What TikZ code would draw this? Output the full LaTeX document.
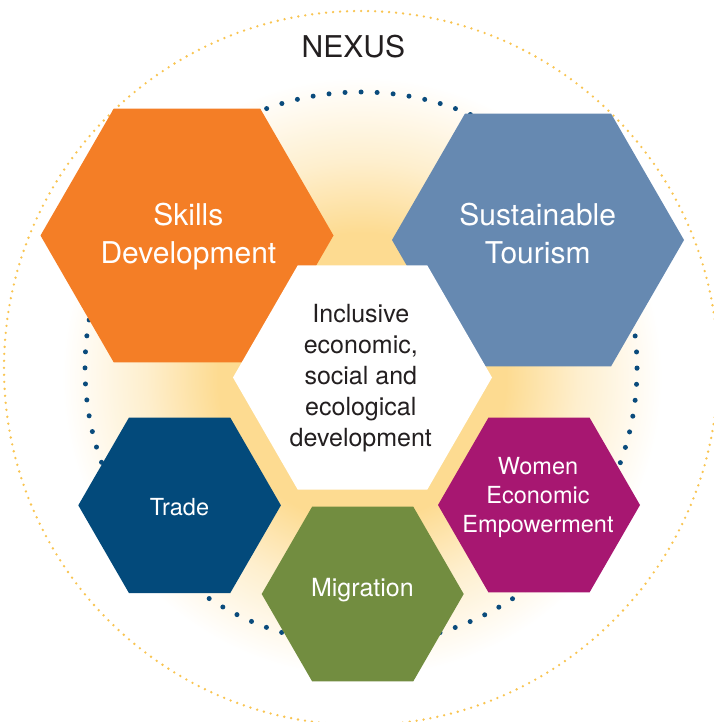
\documentclass[tikz,border=0pt]{standalone}
\usepackage{fontspec}
\setmainfont{TeX Gyre Heros}
\definecolor{skillsc}{RGB}{244,126,38}
\definecolor{tourc}{RGB}{102,137,177}
\definecolor{tradec}{RGB}{3,74,123}
\definecolor{womenc}{RGB}{167,23,113}
\definecolor{migc}{RGB}{114,141,64}
\definecolor{dotblue}{RGB}{10,75,124}
\definecolor{dotorange}{RGB}{249,196,80}
\definecolor{textdark}{RGB}{35,31,32}
\definecolor{glowc}{RGB}{253,219,145}
\pgfdeclareradialshading{glowshade}{\pgfpointorigin}{color(0bp)=(glowc); color(12bp)=(glowc); color(18bp)=(glowc!45!white); color(25bp)=(white); color(50bp)=(white)}
\newcommand{\hexfill}[4]{\fill[#1, shift={(#2,#3)}] (0:#4pt) -- (60:#4pt) -- (120:#4pt) -- (180:#4pt) -- (240:#4pt) -- (300:#4pt) -- cycle;}
\tikzset{
  lab/.style={inner sep=0pt, align=center, anchor=base, text=white},
  darklab/.style={lab, text=textdark},
  bluedots/.style={draw=dotblue, line width=5pt, line cap=round, dash pattern=on 0pt off 16.057pt},
  orangedots/.style={draw=dotorange, line width=2.6pt, line cap=round, dash pattern=on 0pt off 7.0097pt}
}
\begin{document}
\begin{tikzpicture}[x=1pt,y=-1pt]
\fill[white] (0,0) rectangle (713,722);
\useasboundingbox (0,0) rectangle (713,722);
% glow
\shade[shading=glowshade] (362,377) circle[radius=300pt];
% dotted circles
\draw[orangedots] (361,368) circle[radius=357pt];
\draw[bluedots] (361,368) circle[radius=276pt];
% hexagons
\hexfill{skillsc}{187}{235.5}{146.5}
\hexfill{tourc}{538}{240}{146}
\hexfill{white}{362.5}{377.5}{129.5}
\hexfill{tradec}{179.6}{505.3}{101.3}
\hexfill{womenc}{539}{505}{101}
\hexfill{migc}{362.7}{594}{101}
% labels (base anchor = baseline of the last line)
\node[darklab, font=\fontsize{30}{36}\selectfont] (nexus) at (353.4,57.3) {NEXUS};
\node[lab, font=\fontsize{30}{38.3}\selectfont] (skills) at (188.4,263.3) {Skills\\Development};
\node[lab, font=\fontsize{30}{38.3}\selectfont] (tourism) at (537.7,263.3) {Sustainable\\Tourism};
\node[darklab, font=\fontsize{25}{31}\selectfont] (core) at (360.8,446.7) {Inclusive\\economic,\\social and\\ecological\\development};
\node[lab, font=\fontsize{23.5}{28.7}\selectfont] (trade) at (179.5,515) {Trade};
\node[lab, font=\fontsize{23.5}{28.7}\selectfont] (women) at (538,532.3) {Women\\Economic\\Empowerment};
\node[lab, font=\fontsize{25}{30}\selectfont] (migration) at (362.4,596) {Migration};
\end{tikzpicture}
\end{document}
